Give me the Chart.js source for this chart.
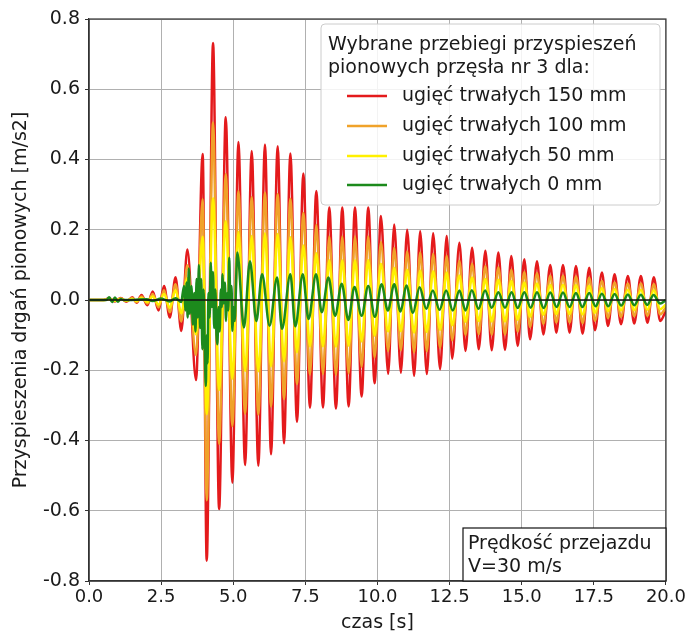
<!DOCTYPE html>
<html>
<head>
<meta charset="utf-8">
<script src="https://cdn.jsdelivr.net/npm/chart.js@4.4.1/dist/chart.umd.min.js"></script>
<style>
  html, body { margin: 0; padding: 0; background: #fff; }
</style>
</head>
<body>
<canvas id="wykres" width="688" height="635"></canvas>
<script>
// czas [s] - ekstrema przebiegow 150 / 100 / 50 mm (wspolna os czasu)
const czas = [
  0.0, 0.5, 0.7, 0.9, 1.1, 1.3, 1.5, 1.65, 1.82, 2.02,
  2.21, 2.41, 2.60, 2.80, 3.00, 3.20, 3.41, 3.71, 3.94, 4.08,
  4.30, 4.51, 4.74, 4.97, 5.18, 5.41, 5.64, 5.87, 6.10, 6.31,
  6.54, 6.76, 6.98, 7.21, 7.43, 7.66, 7.88, 8.11, 8.33, 8.56,
  8.78, 9.00, 9.22, 9.45, 9.68, 9.90, 10.12, 10.37, 10.58, 10.81,
  11.03, 11.27, 11.48, 11.71, 11.93, 12.17, 12.40, 12.59, 12.84, 13.05,
  13.28, 13.51, 13.74, 13.96, 14.19, 14.42, 14.64, 14.86, 15.09, 15.29,
  15.53, 15.75, 15.99, 16.20, 16.43, 16.66, 16.88, 17.11, 17.34, 17.54,
  17.78, 17.99, 18.22, 18.44, 18.68, 18.90, 19.13, 19.36, 19.58, 19.80,
  20.0
];

// ugiecia trwale 150 mm
const przysp150 = [
  0, 0, 0.005, -0.004, 0.006, -0.005, 0.008, -0.008, 0.014, -0.015,
  0.024, -0.03, 0.04, -0.05, 0.065, -0.088, 0.144, -0.228, 0.416, -0.742,
  0.732, -0.595, 0.52, -0.52, 0.45, -0.47, 0.424, -0.472, 0.443, -0.439,
  0.438, -0.408, 0.417, -0.347, 0.36, -0.307, 0.31, -0.306, 0.263, -0.309,
  0.263, -0.303, 0.263, -0.275, 0.263, -0.237, 0.239, -0.21, 0.215, -0.207,
  0.2, -0.216, 0.196, -0.211, 0.19, -0.197, 0.182, -0.167, 0.163, -0.145,
  0.149, -0.14, 0.14, -0.143, 0.135, -0.142, 0.125, -0.131, 0.116, -0.112,
  0.11, -0.098, 0.1, -0.093, 0.1, -0.093, 0.097, -0.096, 0.092, -0.086,
  0.078, -0.074, 0.073, -0.069, 0.068, -0.067, 0.068, -0.065, 0.065, -0.06,
  -0.03
];

// ugiecia trwale 100 mm
const przysp100 = [
  0, 0, 0.003, -0.003, 0.004, -0.003, 0.006, -0.006, 0.01, -0.01,
  0.017, -0.021, 0.028, -0.035, 0.045, -0.061, 0.099, -0.157, 0.287, -0.57,
  0.505, -0.41, 0.359, -0.359, 0.31, -0.324, 0.293, -0.326, 0.306, -0.303,
  0.302, -0.282, 0.288, -0.239, 0.248, -0.212, 0.214, -0.211, 0.181, -0.213,
  0.181, -0.209, 0.181, -0.19, 0.181, -0.164, 0.165, -0.145, 0.148, -0.143,
  0.138, -0.149, 0.135, -0.146, 0.131, -0.136, 0.126, -0.115, 0.112, -0.1,
  0.103, -0.097, 0.097, -0.099, 0.093, -0.098, 0.086, -0.09, 0.08, -0.077,
  0.076, -0.068, 0.069, -0.064, 0.069, -0.064, 0.067, -0.066, 0.063, -0.059,
  0.054, -0.051, 0.05, -0.048, 0.047, -0.046, 0.047, -0.045, 0.045, -0.041,
  -0.021
];

// ugiecia trwale 50 mm
const przysp50 = [
  0, 0, 0.002, -0.002, 0.003, -0.002, 0.003, -0.003, 0.006, -0.006,
  0.01, -0.013, 0.017, -0.022, 0.028, -0.038, 0.062, -0.098, 0.18, -0.325,
  0.29, -0.256, 0.224, -0.224, 0.194, -0.202, 0.182, -0.203, 0.19, -0.189,
  0.188, -0.175, 0.179, -0.149, 0.155, -0.132, 0.133, -0.132, 0.113, -0.133,
  0.113, -0.13, 0.113, -0.118, 0.113, -0.102, 0.103, -0.09, 0.092, -0.089,
  0.086, -0.093, 0.084, -0.091, 0.082, -0.085, 0.078, -0.072, 0.07, -0.062,
  0.064, -0.06, 0.06, -0.061, 0.058, -0.061, 0.054, -0.056, 0.05, -0.048,
  0.047, -0.042, 0.043, -0.04, 0.043, -0.04, 0.042, -0.041, 0.04, -0.037,
  0.034, -0.032, 0.031, -0.03, 0.029, -0.029, 0.029, -0.028, 0.028, -0.026,
  -0.013
];

// ugiecia trwale 0 mm - osobna os czasu (szum przy wjezdzie)
const czas0 = [
  0, 0.6, 0.7, 0.8, 0.9, 1.0, 1.1, 1.2, 2.0, 2.2,
  2.5, 2.8, 3.0, 3.2, 3.25, 3.30, 3.34, 3.38, 3.42, 3.46,
  3.50, 3.55, 3.60, 3.65, 3.69, 3.73, 3.77, 3.81, 3.85, 3.89,
  3.93, 3.97, 4.01, 4.05, 4.08, 4.11, 4.14, 4.18, 4.22, 4.26,
  4.30, 4.34, 4.38, 4.42, 4.45, 4.49, 4.53, 4.57, 4.60, 4.63,
  4.67, 4.71, 4.75, 4.79, 4.83, 4.86, 4.90, 4.94, 4.97, 5.01,
  5.05, 5.14, 5.37, 5.58, 5.80, 6.00, 6.26, 6.52, 6.69, 6.98,
  7.15, 7.41, 7.61, 7.87, 8.07, 8.30, 8.53, 8.76, 8.99, 9.20,
  9.45, 9.68, 9.91, 10.14, 10.36, 10.58, 10.80, 11.00, 11.23, 11.46,
  11.69, 11.92, 12.15, 12.38, 12.61, 12.84, 13.05, 13.27, 13.50, 13.73,
  13.96, 14.19, 14.42, 14.65, 14.86, 15.09, 15.31, 15.53, 15.76, 15.99,
  16.21, 16.43, 16.66, 16.88, 17.10, 17.34, 17.56, 17.78, 18.00, 18.22,
  18.45, 18.68, 18.90, 19.13, 19.35, 19.57, 19.80, 20.0
];
const przysp0 = [
  0, 0, 0.008, -0.006, 0.007, -0.005, 0.003, 0, 0.002, -0.003,
  0.004, -0.004, 0.005, -0.006, 0.02, 0.04, -0.03, 0.05, -0.05, 0.09,
  -0.04, 0.04, -0.07, 0.02, -0.09, 0.06, -0.05, 0.10, -0.08, 0.06,
  -0.14, 0.03, -0.12, -0.245, -0.10, -0.18, 0.02, -0.05, 0.106, -0.02,
  0.08, -0.08, 0.03, -0.10, -0.126, -0.02, -0.09, 0.03, -0.02, 0.073,
  -0.01, 0.05, -0.06, 0.02, -0.03, 0.12, 0.0, 0.04, -0.088, -0.02,
  -0.06, 0.135, -0.078, 0.11, -0.06, 0.073, -0.073, 0.064, -0.082, 0.073,
  -0.075, 0.073, -0.054, 0.073, -0.035, 0.064, -0.045, 0.046, -0.057, 0.037,
  -0.045, 0.04, -0.048, 0.045, -0.03, 0.045, -0.033, 0.041, -0.036, 0.036,
  -0.025, 0.027, -0.028, 0.027, -0.03, 0.027, -0.03, 0.028, -0.025, 0.027,
  -0.022, 0.022, -0.022, 0.022, -0.023, 0.022, -0.022, 0.022, -0.023, 0.021,
  -0.02, 0.021, -0.02, 0.02, -0.02, 0.02, -0.018, 0.018, -0.018, 0.017,
  -0.016, 0.016, -0.015, 0.015, -0.014, 0.014, -0.01, 0
];

// linia zerowa
const linia0X = [0, 20];
const linia0Y = [0, 0];

const nazwySerii = ['ugięć trwałych 150 mm', 'ugięć trwałych 100 mm', 'ugięć trwałych 50 mm', 'ugięć trwałych 0 mm'];
const kolory = ['#e41a1c', '#f0a22a', '#fff000', '#1c8a1c'];
const tytulLegendy = ['Wybrane przebiegi przyspieszeń', 'pionowych przęsła nr 3 dla:'];
const opisPredkosci = ['Prędkość przejazdu', 'V=30 m/s'];

const FONT = '"DejaVu Sans", sans-serif';
Chart.defaults.font.family = FONT;
Chart.defaults.font.size = 19;
Chart.defaults.color = '#1a1a1a';

function punkty(xs, ys) {
    return xs.map((x, i) => ({ x: x, y: ys[i] }));
}

function seria(label, xs, ys, kolor, szer) {
    return {
        label: label,
        data: punkty(xs, ys),
        borderColor: kolor,
        borderWidth: szer,
        pointRadius: 0,
        fill: false,
        cubicInterpolationMode: 'monotone'
    };
}

// ramka, legenda i opis predkosci rysowane na koncu
const dodatkiPlugin = {
    id: 'dodatki',
    afterDraw(chart) {
        const ctx = chart.ctx;
        const a = chart.chartArea;
        ctx.save();

        // ramka wykresu (gora i prawa strona)
        ctx.strokeStyle = '#333';
        ctx.lineWidth = 1.2;
        ctx.strokeRect(a.left, a.top, a.right - a.left, a.bottom - a.top);

        // legenda
        ctx.beginPath();
        ctx.roundRect(321, 24, 339, 181, 4);
        ctx.fillStyle = 'rgba(255,255,255,0.85)';
        ctx.fill();
        ctx.strokeStyle = '#cccccc';
        ctx.lineWidth = 1;
        ctx.stroke();

        ctx.font = '19px ' + FONT;
        ctx.fillStyle = '#1a1a1a';
        ctx.textBaseline = 'middle';
        ctx.textAlign = 'left';
        ctx.fillText(tytulLegendy[0], 328, 45);
        ctx.fillText(tytulLegendy[1], 328, 68);

        const wiersze = [96, 126, 156, 185];
        nazwySerii.forEach((n, i) => {
            ctx.strokeStyle = kolory[i];
            ctx.lineWidth = 2.5;
            ctx.beginPath();
            ctx.moveTo(347, wiersze[i]);
            ctx.lineTo(387, wiersze[i]);
            ctx.stroke();
            ctx.fillText(n, 402, wiersze[i]);
        });

        // opis predkosci
        ctx.fillStyle = '#fff';
        ctx.fillRect(463, 528, a.right - 463, a.bottom - 528);
        ctx.strokeStyle = '#111';
        ctx.lineWidth = 1.2;
        ctx.strokeRect(463, 528, a.right - 463, a.bottom - 528);
        ctx.fillStyle = '#1a1a1a';
        ctx.fillText(opisPredkosci[0], 468, 544);
        ctx.fillText(opisPredkosci[1], 468, 567);

        ctx.restore();
    }
};

const formatTick = v => (Math.abs(v) < 1e-9 ? '0.0' : v.toFixed(1));

new Chart(document.getElementById('wykres'), {
    type: 'line',
    data: {
        // pierwszy zbior rysowany na wierzchu
        datasets: [
            seria('zero', linia0X, linia0Y, '#111', 1.5),
            seria(nazwySerii[3], czas0, przysp0, kolory[3], 2.5),
            seria(nazwySerii[2], czas, przysp50, kolory[2], 2.5),
            seria(nazwySerii[1], czas, przysp100, kolory[1], 2.5),
            seria(nazwySerii[0], czas, przysp150, kolory[0], 2.5)
        ]
    },
    options: {
        responsive: false,
        animation: false,
        layout: { padding: { top: 19, right: 20, left: 0, bottom: 0 } },
        plugins: {
            legend: { display: false },
            tooltip: { enabled: false }
        },
        scales: {
            x: {
                type: 'linear',
                min: 0,
                max: 20,
                ticks: { stepSize: 2.5, padding: 2, callback: formatTick, maxRotation: 0, font: { size: 18 } },
                grid: { color: '#b0b0b0', lineWidth: 1, tickColor: '#333', tickLength: 4 },
                border: { color: '#333', width: 1.2 },
                title: { display: true, text: 'czas [s]', padding: { top: 0, bottom: 1 } },
                afterFit: s => { s.height = 54; }
            },
            y: {
                min: -0.8,
                max: 0.8,
                ticks: { stepSize: 0.2, padding: 5, callback: formatTick },
                grid: { color: '#b0b0b0', lineWidth: 1, tickColor: '#333', tickLength: 4 },
                border: { color: '#333', width: 1.2 },
                title: { display: true, text: 'Przyspieszenia drgań pionowych [m/s2]', padding: { top: 10, bottom: 0 } },
                afterFit: s => { s.width = 89; }
            }
        }
    },
    plugins: [dodatkiPlugin]
});
</script>
</body>
</html>
